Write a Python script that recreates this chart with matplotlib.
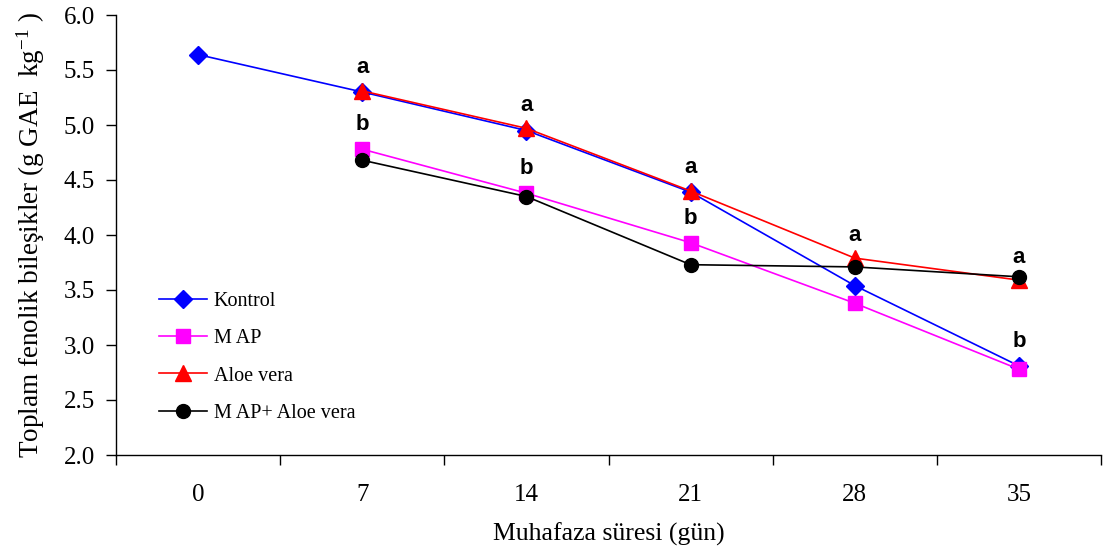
import numpy as np
import matplotlib
matplotlib.use('Agg')
import matplotlib.pyplot as plt

plt.rcParams['font.family'] = 'Liberation Serif'
plt.rcParams['mathtext.fontset'] = 'custom'
plt.rcParams['mathtext.rm'] = 'Liberation Serif'
plt.rcParams['mathtext.it'] = 'Liberation Serif:italic'

days = ['0', '7', '14', '21', '28', '35']
kontrol = [5.64, 5.30, 4.95, 4.39, 3.54, 2.81]
map_ = [np.nan, 4.78, 4.38, 3.93, 3.38, 2.78]
aloe = [np.nan, 5.31, 4.97, 4.40, 3.79, 3.59]
map_aloe = [np.nan, 4.68, 4.35, 3.73, 3.71, 3.62]

# significance letters and which series they sit above
letters_a = ['', 'a', 'a', 'a', 'a', 'a']
letters_b = ['', 'b', 'b', 'b', '', 'b']
b_ref = [np.nan, 4.78, 4.38, 3.93, np.nan, 2.81]

fig = plt.figure(figsize=(11.04, 5.54), dpi=100)
ax = fig.add_axes([116/1104, 1-455/554, 985/1104, 440/554])

x = np.arange(len(days))
ax.plot(x, kontrol, color='#0000ff', lw=1.2, marker='D', ms=9, label='Kontrol')
ax.plot(x, map_, color='#ff00ff', lw=1.2, marker='s', ms=10, label='M AP')
ax.plot(x, aloe, color='#ff0000', lw=1.2, marker='^', ms=11, label='Aloe vera')
ax.plot(x, map_aloe, color='#000000', lw=1.2, marker='o', ms=10, label='M AP+ Aloe vera')

for i in x:
    if letters_a[i]:
        ax.annotate(letters_a[i], (i, aloe[i]), xytext=(0, 9), textcoords='offset points',
                    ha='center', va='bottom', fontsize=16, fontweight='bold',
                    family='Liberation Sans')
    if letters_b[i]:
        ax.annotate(letters_b[i], (i, b_ref[i]), xytext=(0, 10), textcoords='offset points',
                    ha='center', va='bottom', fontsize=16, fontweight='bold',
                    family='Liberation Sans')

ax.set_xlim(-0.5, 5.5)
ax.set_ylim(2.0, 6.0)
ax.set_yticks(np.arange(2.0, 6.01, 0.5))
ax.set_yticklabels(['%.1f' % v for v in np.arange(2.0, 6.01, 0.5)])
ax.set_xticks(np.arange(-0.5, 5.6, 1.0))
ax.set_xticklabels([])
ax.set_xticks(x, minor=True)
ax.set_xticklabels(days, minor=True)
ax.tick_params(axis='x', which='minor', length=0, pad=21, labelsize=18)
ax.tick_params(axis='x', which='major', length=7, width=1, direction='out')
ax.tick_params(axis='y', length=7, width=1, direction='out', labelsize=18, pad=8)

for s in ['top', 'right']:
    ax.spines[s].set_visible(False)
for s in ['left', 'bottom']:
    ax.spines[s].set_linewidth(1)

ax.set_xlabel('Muhafaza süresi (gün)', fontsize=18.5, labelpad=12)
ax.set_ylabel(r'Toplam fenolik bileşikler (g GAE  kg$^{\mathrm{-1}}$ )', fontsize=19.5, labelpad=12)

ax.legend(loc='lower left', bbox_to_anchor=(0.035, 0.055), frameon=False, fontsize=14.5,
          handlelength=2.4, labelspacing=0.9, handletextpad=0.35, borderaxespad=0)

plt.savefig('out.png', dpi=100)
plt.close()
